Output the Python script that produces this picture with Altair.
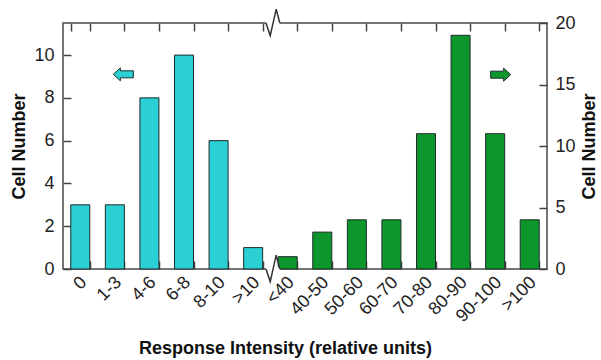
import altair as alt
import pandas as pd

# ---- data ----
left_categories = ["0", "1-3", "4-6", "6-8", "8-10", ">10"]
left_counts = [3, 3, 8, 10, 6, 1]
right_categories = ["<40", "40-50", "50-60", "60-70", "70-80", "80-90", "90-100", ">100"]
right_counts = [1, 3, 4, 4, 11, 19, 11, 4]
left_ticks = [0, 2, 4, 6, 8, 10]
right_ticks = [0, 5, 10, 15, 20]
left_max = 11.5
right_max = 20
all_categories = left_categories + right_categories

# annotation anchors (category, value)
left_arrow_cat, left_arrow_val = ["1-3"], [9.1]
right_arrow_cat, right_arrow_val = ["90-100"], [15.8]
break_cat = ["<40"]

CYAN = "#2bd0d4"
GREEN = "#0c962b"
EDGE = "#1f2b2b"
FONT = "Liberation Sans"

df_left = pd.DataFrame({"cat": left_categories, "n": left_counts})
df_right = pd.DataFrame({"cat": right_categories, "n": right_counts})
df_larrow = pd.DataFrame({"cat": left_arrow_cat, "n": left_arrow_val})
df_rarrow = pd.DataFrame({"cat": right_arrow_cat, "n": right_arrow_val})
df_break = pd.DataFrame({"cat": break_cat})

xscale = alt.Scale(domain=all_categories, paddingInner=0.45, paddingOuter=0.225)

x_bottom = alt.X(
    "cat:N", scale=xscale, sort=all_categories,
    title="Response Intensity (relative units)",
    axis=alt.Axis(orient="bottom", offset=-8, tickSize=8, tickBand="extent",
                  domain=False, labelAngle=-45, labelAlign="right",
                  labelBaseline="top", labelPadding=4, labelOffset=-3,
                  titleX=222, titleY=87, titleBaseline="middle", titleAlign="center"),
)
x_top = alt.X(
    "cat:N", scale=xscale, sort=all_categories, title=None,
    axis=alt.Axis(orient="top", offset=-8, tickSize=8, tickBand="extent",
                  domain=False, labels=False),
)
x_none = alt.X("cat:N", scale=xscale, sort=all_categories, axis=None)

yleft = alt.Scale(domain=[0, left_max], nice=False)
yright = alt.Scale(domain=[0, right_max], nice=False)

cyan_bars = alt.Chart(df_left).mark_bar(
    color=CYAN, stroke=EDGE, strokeWidth=1
).encode(
    x=x_bottom,
    y=alt.Y("n:Q", scale=yleft,
            axis=alt.Axis(orient="left", values=left_ticks, offset=-8, tickSize=8,
                          domain=False, grid=False, title="Cell Number",
                          labelPadding=9, titlePadding=5)),
)

green_bars = alt.Chart(df_right).mark_bar(
    color=GREEN, stroke=EDGE, strokeWidth=1
).encode(
    x=x_top,
    y=alt.Y("n:Q", scale=yright,
            axis=alt.Axis(orient="right", values=right_ticks, offset=-8, tickSize=8,
                          domain=False, grid=False, title="Cell Number",
                          titleAngle=270, titleBaseline="top",
                          labelPadding=8, titlePadding=5)),
)

LEFT_ARROW = "M -1 0 L -0.3 -0.65 L -0.3 -0.35 L 1 -0.35 L 1 0.35 L -0.3 0.35 L -0.3 0.65 Z"
RIGHT_ARROW = "M 1 0 L 0.3 -0.65 L 0.3 -0.35 L -1 -0.35 L -1 0.35 L 0.3 0.35 L 0.3 0.65 Z"
ZIGZAG = "M -0.6 0 L -0.25 1.05 L 0.25 -1.15 L 0.55 0"
MASK = "M -0.6 0 L 0.55 0"

cyan_arrow = alt.Chart(df_larrow).mark_point(
    shape=LEFT_ARROW, size=400, filled=True, fill=CYAN, stroke=EDGE,
    strokeWidth=1, opacity=1
).encode(x=x_none, xOffset=alt.value(18), y=alt.Y("n:Q", scale=yleft, axis=None))

green_arrow = alt.Chart(df_rarrow).mark_point(
    shape=RIGHT_ARROW, size=400, filled=True, fill=GREEN, stroke=EDGE,
    strokeWidth=1, opacity=1
).encode(x=x_none, xOffset=alt.value(15), y=alt.Y("n:Q", scale=yright, axis=None))


def brk(ypos, off, shape, color, width):
    return alt.Chart(df_break).mark_point(
        shape=shape, size=576, filled=False, stroke=color, strokeWidth=width, opacity=1
    ).encode(x=x_none, xOffset=alt.value(off), y=alt.value(ypos))


mask_top = brk(0, -5, MASK, "white", 4)
mask_bot = brk("height", -5, MASK, "white", 4)
zig_top = brk(0, -5, ZIGZAG, "#333", 1.5)
zig_bot = brk("height", -5, ZIGZAG, "#333", 1.5)

chart = alt.layer(
    cyan_bars, green_bars, cyan_arrow, green_arrow, mask_top, mask_bot, zig_top, zig_bot
).resolve_scale(
    y="independent"
).resolve_axis(
    x="independent", y="independent"
).properties(
    width=484, height=246,
    padding={"left": 63, "top": 23, "right": 54, "bottom": 91},
    autosize=alt.AutoSizeParams(type="none"),
    background="white",
).configure_view(
    stroke="#4a4a4a", strokeWidth=1.5
).configure_axis(
    labelFont=FONT, titleFont=FONT, labelFontSize=18, titleFontSize=18,
    labelColor="#222", titleColor="#111", tickColor="#444", tickWidth=1.5,
    titleFontWeight="bold",
)

chart.save("out.html", embed_options={"renderer": "svg", "actions": False})
